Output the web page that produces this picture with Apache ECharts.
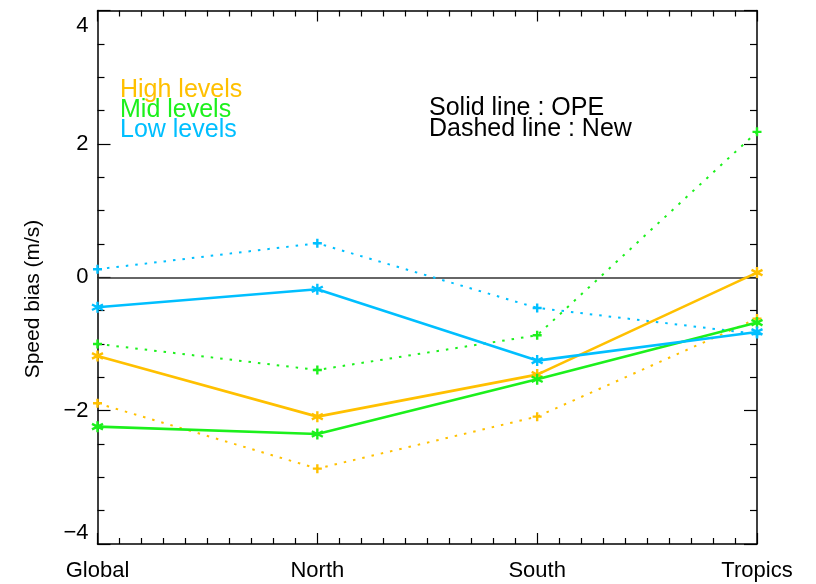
<!DOCTYPE html>
<html>
<head>
<meta charset="utf-8">
<script src="https://cdn.jsdelivr.net/npm/echarts@6/dist/echarts.min.js"></script>
<style>
  html, body { margin: 0; padding: 0; background: #fff; }
  #chart { width: 816px; height: 584px; }
</style>
</head>
<body>
<div id="chart"></div>
<script>
// Regions along the x axis
const categories = ['Global', 'North', 'South', 'Tropics'];

// Speed bias (m/s) per region, operational run (solid) and new run (dotted)
const highOPE = [-1.18, -2.09, -1.46, 0.07];
const highNew = [-1.89, -2.87, -2.09, -0.62];
const midOPE  = [-2.24, -2.35, -1.53, -0.68];
const midNew  = [-1.00, -1.39, -0.87, 2.18];
const lowOPE  = [-0.45, -0.18, -1.25, -0.82];
const lowNew  = [0.12, 0.51, -0.46, -0.85];

// Y axis range and ticks
const yTicks = [-4, -2, 0, 2, 4];

const colors = { high: '#ffc000', mid: '#1cf01c', low: '#00bfff' };
const FONT = 'Liberation Sans';

const ASTERISK = 'path://M0,-5L0,5M-4.33,-2.5L4.33,2.5M-4.33,2.5L4.33,-2.5';
const PLUS = 'path://M0,-5L0,5M-5,0L5,0';

function pairs(values) {
  return values.map((v, i) => [i, v]);
}

function solidSeries(values, color) {
  return {
    type: 'line',
    data: pairs(values),
    symbol: ASTERISK,
    symbolSize: 11,
    lineStyle: { color: color, width: 2.6 },
    itemStyle: { color: color, borderColor: color, borderWidth: 2.4 },
    clip: false,
    z: 4
  };
}

function dottedSeries(values, color) {
  return {
    type: 'line',
    data: pairs(values),
    symbol: PLUS,
    symbolSize: 9,
    lineStyle: { color: color, width: 2, type: [2.5, 7] },
    itemStyle: { color: color, borderColor: color, borderWidth: 2.4 },
    clip: false,
    z: 3
  };
}

const axisLine = { show: true, onZero: false, lineStyle: { color: '#000', width: 1.5 } };

const xBase = {
  type: 'value',
  min: 0,
  max: categories.length - 1,
  interval: 1,
  axisLine: axisLine,
  axisTick: { show: true, inside: true, length: 11, lineStyle: { color: '#000', width: 1.2 } },
  minorTick: { show: true, splitNumber: 10, length: 6, lineStyle: { color: '#000', width: 1.2 } },
  splitLine: { show: false }
};

const yBase = {
  type: 'value',
  min: yTicks[0],
  max: yTicks[yTicks.length - 1],
  interval: 2,
  axisLine: axisLine,
  axisTick: { show: true, inside: true, length: 13, lineStyle: { color: '#000', width: 1.2 } },
  minorTick: { show: true, splitNumber: 4, length: 7, lineStyle: { color: '#000', width: 1.2 } },
  splitLine: { show: false }
};

const chart = echarts.init(document.getElementById('chart'), null, { renderer: 'canvas' });

const series = [
  solidSeries(highOPE, colors.high),
  dottedSeries(highNew, colors.high),
  solidSeries(midOPE, colors.mid),
  dottedSeries(midNew, colors.mid),
  solidSeries(lowOPE, colors.low),
  dottedSeries(lowNew, colors.low)
];

// Zero reference line
series[0].markLine = {
  silent: true,
  symbol: 'none',
  label: { show: false },
  lineStyle: { color: '#333', width: 1.5, type: 'solid' },
  data: [{ yAxis: 0 }],
  z: 1
};

const option = {
  animation: false,
  backgroundColor: '#fff',
  grid: { left: 97.5, right: 59, top: 10.5, bottom: 40 },
  xAxis: [
    Object.assign({}, xBase, {
      position: 'bottom',
      axisLabel: {
        show: true, margin: 16, color: '#000', fontFamily: FONT, fontSize: 22,
        formatter: (v) => categories[Math.round(v)] || ''
      }
    }),
    Object.assign({}, xBase, { position: 'top', axisLabel: { show: false } })
  ],
  yAxis: [
    Object.assign({}, yBase, {
      position: 'left',
      axisLabel: {
        show: true, margin: 9, color: '#000', fontFamily: FONT, fontSize: 22,
        padding: [4, 0, 0, 0],
        verticalAlignMaxLabel: 'top',
        verticalAlignMinLabel: 'bottom',
        formatter: (v) => String(v).replace('-', '\u2212')
      }
    }),
    Object.assign({}, yBase, { position: 'right', axisLabel: { show: false } })
  ],
  series: series,
  graphic: [
    {
      type: 'text',
      x: 33, y: 299, rotation: Math.PI / 2,
      style: {
        text: 'Speed bias (m/s)', fill: '#000', font: '21px "' + FONT + '"',
        textAlign: 'center', textVerticalAlign: 'middle'
      }
    },
    { type: 'text', x: 120, y: 90, style: { text: 'High levels', fill: colors.high, font: '25px "' + FONT + '"', textVerticalAlign: 'middle' } },
    { type: 'text', x: 120, y: 110, style: { text: 'Mid levels', fill: colors.mid, font: '25px "' + FONT + '"', textVerticalAlign: 'middle' } },
    { type: 'text', x: 120, y: 130, style: { text: 'Low levels', fill: colors.low, font: '25px "' + FONT + '"', textVerticalAlign: 'middle' } },
    { type: 'text', x: 429, y: 108, style: { text: 'Solid line : OPE', fill: '#000', font: '25px "' + FONT + '"', textVerticalAlign: 'middle' } },
    { type: 'text', x: 429, y: 129, style: { text: 'Dashed line : New', fill: '#000', font: '25px "' + FONT + '"', textVerticalAlign: 'middle' } }
  ]
};

chart.setOption(option);
</script>
</body>
</html>
